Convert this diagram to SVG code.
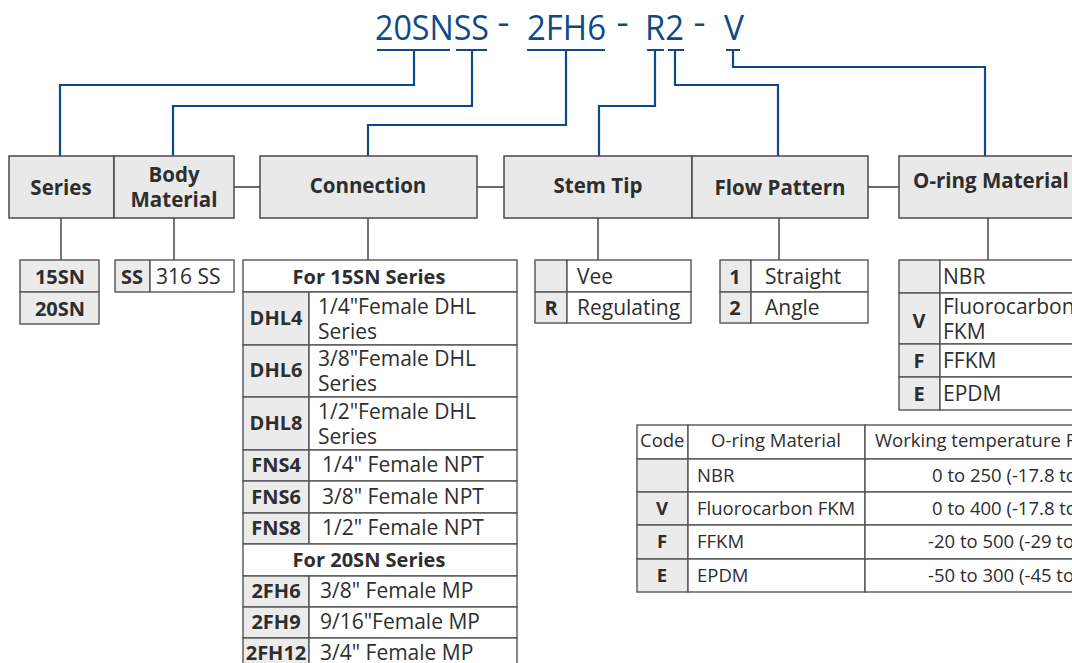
<svg xmlns="http://www.w3.org/2000/svg" width="1072" height="663" viewBox="0 0 1072 663">
<style>
text{font-family:"Open Sans","Noto Sans","DejaVu Sans",sans-serif;fill:#2e2e2e}
.title{font-size:35px;fill:#0d4a8a}
.dash{font-size:22px;font-weight:bold;fill:#0d4a8a}
.blue{fill:none;stroke:#0d4a8a;stroke-width:2.2}
.gl{fill:none;stroke:#3a3a3a;stroke-width:1.4}
.hbox{fill:#e9e9e9;stroke:#4a4a4a;stroke-width:1.5}
.cell{fill:#ffffff;stroke:#555;stroke-width:1.4}
.gcell{fill:#ebebeb;stroke:#555;stroke-width:1.4}
.h{font-size:20.5px;font-weight:bold;text-anchor:middle}
.c{font-size:20px;font-weight:bold;text-anchor:middle}
.d{font-size:21px}
.s{font-size:18.5px}
.sc{font-size:18.5px;font-weight:bold;text-anchor:middle}
</style>
<rect width="1072" height="663" fill="#ffffff"/>

<g id="title">
<text class="title" x="375" y="40" textLength="114" lengthAdjust="spacingAndGlyphs">20SNSS</text>
<text class="dash" x="498" y="31">–</text>
<text class="title" x="527" y="40" textLength="79" lengthAdjust="spacingAndGlyphs">2FH6</text>
<text class="dash" x="617" y="31">–</text>
<text class="title" x="645" y="40" textLength="39" lengthAdjust="spacingAndGlyphs">R2</text>
<text class="dash" x="694" y="31">–</text>
<text class="title" x="724" y="40" textLength="20" lengthAdjust="spacingAndGlyphs">V</text>
</g>

<g id="connectors">
<path class="blue" d="M377,50H450M456,50H487M527,50H605M647,50H664M668,50H684M726,50H740"/>
<path class="blue" d="M414,50V85H60V156"/>
<path class="blue" d="M472,50V106H173V156"/>
<path class="blue" d="M566,50V125H368V156"/>
<path class="blue" d="M655,50V106H599V156"/>
<path class="blue" d="M675,50V85H778V156"/>
<path class="blue" d="M733,50V67H985V156"/>
<path class="gl" d="M234,187H260M477,187H504M868,187H899"/>
<path class="gl" d="M61,218V260M174,218V260M368,218V260M598,218V260M779,218V260M988,218V260"/>
</g>

<g id="series">
<rect class="hbox" x="9" y="156" width="105" height="62"/>
<text class="h" x="61" y="195">Series</text>
</g>
<g id="body-material">
<rect class="hbox" x="114" y="156" width="120" height="62"/>
<text class="h" x="174" y="182">Body</text>
<text class="h" x="174" y="207">Material</text>
</g>
<g id="connection">
<rect class="hbox" x="260" y="156" width="217" height="62"/>
<text class="h" x="368" y="193">Connection</text>
</g>
<g id="stem-tip">
<rect class="hbox" x="504" y="156" width="188" height="62"/>
<text class="h" x="598" y="193">Stem Tip</text>
</g>
<g id="flow-pattern">
<rect class="hbox" x="692" y="156" width="176" height="62"/>
<text class="h" x="780" y="195">Flow Pattern</text>
</g>
<g id="oring-material">
<rect class="hbox" x="899" y="156" width="190" height="62"/>
<text class="h" x="991" y="188">O-ring Material</text>
</g>

<g id="series-table">
<rect class="gcell" x="20" y="260" width="79" height="32"/>
<rect class="gcell" x="20" y="292" width="79" height="32"/>
<text class="c" x="60" y="284">15SN</text>
<text class="c" x="60" y="316">20SN</text>
</g>

<g id="body-table">
<rect class="gcell" x="115" y="260" width="35" height="32"/>
<rect class="cell" x="150" y="260" width="84" height="32"/>
<text class="c" x="132" y="284">SS</text>
<text class="d" x="156" y="284">316 SS</text>
</g>

<g id="connection-table">
<rect class="cell" x="243" y="260" width="274" height="32"/>
<text class="c" x="369" y="284">For 15SN Series</text>
<rect class="gcell" x="243" y="292" width="66" height="53"/><rect class="cell" x="309" y="292" width="208" height="53"/>
<text class="c" x="276" y="325">DHL4</text>
<text class="d" x="318" y="314">1/4"Female DHL</text><text class="d" x="318" y="339">Series</text>
<rect class="gcell" x="243" y="345" width="66" height="52"/><rect class="cell" x="309" y="345" width="208" height="52"/>
<text class="c" x="276" y="377">DHL6</text>
<text class="d" x="318" y="366">3/8"Female DHL</text><text class="d" x="318" y="391">Series</text>
<rect class="gcell" x="243" y="397" width="66" height="53"/><rect class="cell" x="309" y="397" width="208" height="53"/>
<text class="c" x="276" y="430">DHL8</text>
<text class="d" x="318" y="419">1/2"Female DHL</text><text class="d" x="318" y="444">Series</text>
<rect class="gcell" x="243" y="450" width="66" height="31"/><rect class="cell" x="309" y="450" width="208" height="31"/>
<text class="c" x="276" y="472">FNS4</text><text class="d" x="322" y="472">1/4" Female NPT</text>
<rect class="gcell" x="243" y="481" width="66" height="32"/><rect class="cell" x="309" y="481" width="208" height="32"/>
<text class="c" x="276" y="504">FNS6</text><text class="d" x="322" y="504">3/8" Female NPT</text>
<rect class="gcell" x="243" y="513" width="66" height="31"/><rect class="cell" x="309" y="513" width="208" height="31"/>
<text class="c" x="276" y="535">FNS8</text><text class="d" x="322" y="535">1/2" Female NPT</text>
<rect class="cell" x="243" y="544" width="274" height="32"/>
<text class="c" x="369" y="567">For 20SN Series</text>
<rect class="gcell" x="243" y="576" width="66" height="31"/><rect class="cell" x="309" y="576" width="208" height="31"/>
<text class="c" x="276" y="598">2FH6</text><text class="d" x="320" y="598">3/8" Female MP</text>
<rect class="gcell" x="243" y="607" width="66" height="31"/><rect class="cell" x="309" y="607" width="208" height="31"/>
<text class="c" x="276" y="629">2FH9</text><text class="d" x="320" y="629">9/16"Female MP</text>
<rect class="gcell" x="243" y="638" width="66" height="32"/><rect class="cell" x="309" y="638" width="208" height="32"/>
<text class="c" x="276" y="660">2FH12</text><text class="d" x="320" y="660">3/4" Female MP</text>
</g>

<g id="stem-tip-table">
<rect class="gcell" x="535" y="260" width="32" height="32"/><rect class="cell" x="567" y="260" width="124" height="32"/>
<text class="d" x="577" y="284">Vee</text>
<rect class="gcell" x="535" y="292" width="32" height="31"/><rect class="cell" x="567" y="292" width="124" height="31"/>
<text class="c" x="551" y="315">R</text><text class="d" x="577" y="315">Regulating</text>
</g>

<g id="flow-pattern-table">
<rect class="gcell" x="720" y="260" width="31" height="32"/><rect class="cell" x="751" y="260" width="117" height="32"/>
<text class="c" x="735" y="284">1</text><text class="d" x="765" y="284">Straight</text>
<rect class="gcell" x="720" y="292" width="31" height="31"/><rect class="cell" x="751" y="292" width="117" height="31"/>
<text class="c" x="735" y="315">2</text><text class="d" x="765" y="315">Angle</text>
</g>

<g id="oring-table">
<rect class="gcell" x="899" y="260" width="41" height="33"/><rect class="cell" x="940" y="260" width="150" height="33"/>
<text class="d" x="943" y="284">NBR</text>
<rect class="gcell" x="899" y="293" width="41" height="51"/><rect class="cell" x="940" y="293" width="150" height="51"/>
<text class="c" x="919" y="328">V</text>
<text class="d" x="943" y="314">Fluorocarbon</text><text class="d" x="943" y="339">FKM</text>
<rect class="gcell" x="899" y="344" width="41" height="33"/><rect class="cell" x="940" y="344" width="150" height="33"/>
<text class="c" x="919" y="368">F</text><text class="d" x="943" y="368">FFKM</text>
<rect class="gcell" x="899" y="377" width="41" height="33"/><rect class="cell" x="940" y="377" width="150" height="33"/>
<text class="c" x="919" y="401">E</text><text class="d" x="943" y="401">EPDM</text>
</g>

<g id="temperature-table">
<rect class="cell" x="637" y="425" width="51" height="34"/><rect class="cell" x="688" y="425" width="177" height="34"/><rect class="cell" x="865" y="425" width="225" height="34"/>
<text class="s" x="640" y="447">Code</text>
<text class="s" x="776" y="447" text-anchor="middle">O-ring Material</text>
<text class="s" x="875" y="447">Working temperature Range</text>
<rect class="gcell" x="637" y="459" width="51" height="33"/><rect class="cell" x="688" y="459" width="177" height="33"/><rect class="cell" x="865" y="459" width="225" height="33"/>
<text class="s" x="697" y="482">NBR</text><text class="s" x="932" y="482">0 to 250 (-17.8 to 121)</text>
<rect class="gcell" x="637" y="492" width="51" height="33"/><rect class="cell" x="688" y="492" width="177" height="33"/><rect class="cell" x="865" y="492" width="225" height="33"/>
<text class="sc" x="662" y="515">V</text><text class="s" x="697" y="515">Fluorocarbon FKM</text><text class="s" x="932" y="515">0 to 400 (-17.8 to 204)</text>
<rect class="gcell" x="637" y="525" width="51" height="34"/><rect class="cell" x="688" y="525" width="177" height="34"/><rect class="cell" x="865" y="525" width="225" height="34"/>
<text class="sc" x="662" y="548">F</text><text class="s" x="697" y="548">FFKM</text><text class="s" x="928" y="548">-20 to 500 (-29 to 260)</text>
<rect class="gcell" x="637" y="559" width="51" height="33"/><rect class="cell" x="688" y="559" width="177" height="33"/><rect class="cell" x="865" y="559" width="225" height="33"/>
<text class="sc" x="662" y="582">E</text><text class="s" x="697" y="582">EPDM</text><text class="s" x="928" y="582">-50 to 300 (-45 to 149)</text>
</g>
</svg>
